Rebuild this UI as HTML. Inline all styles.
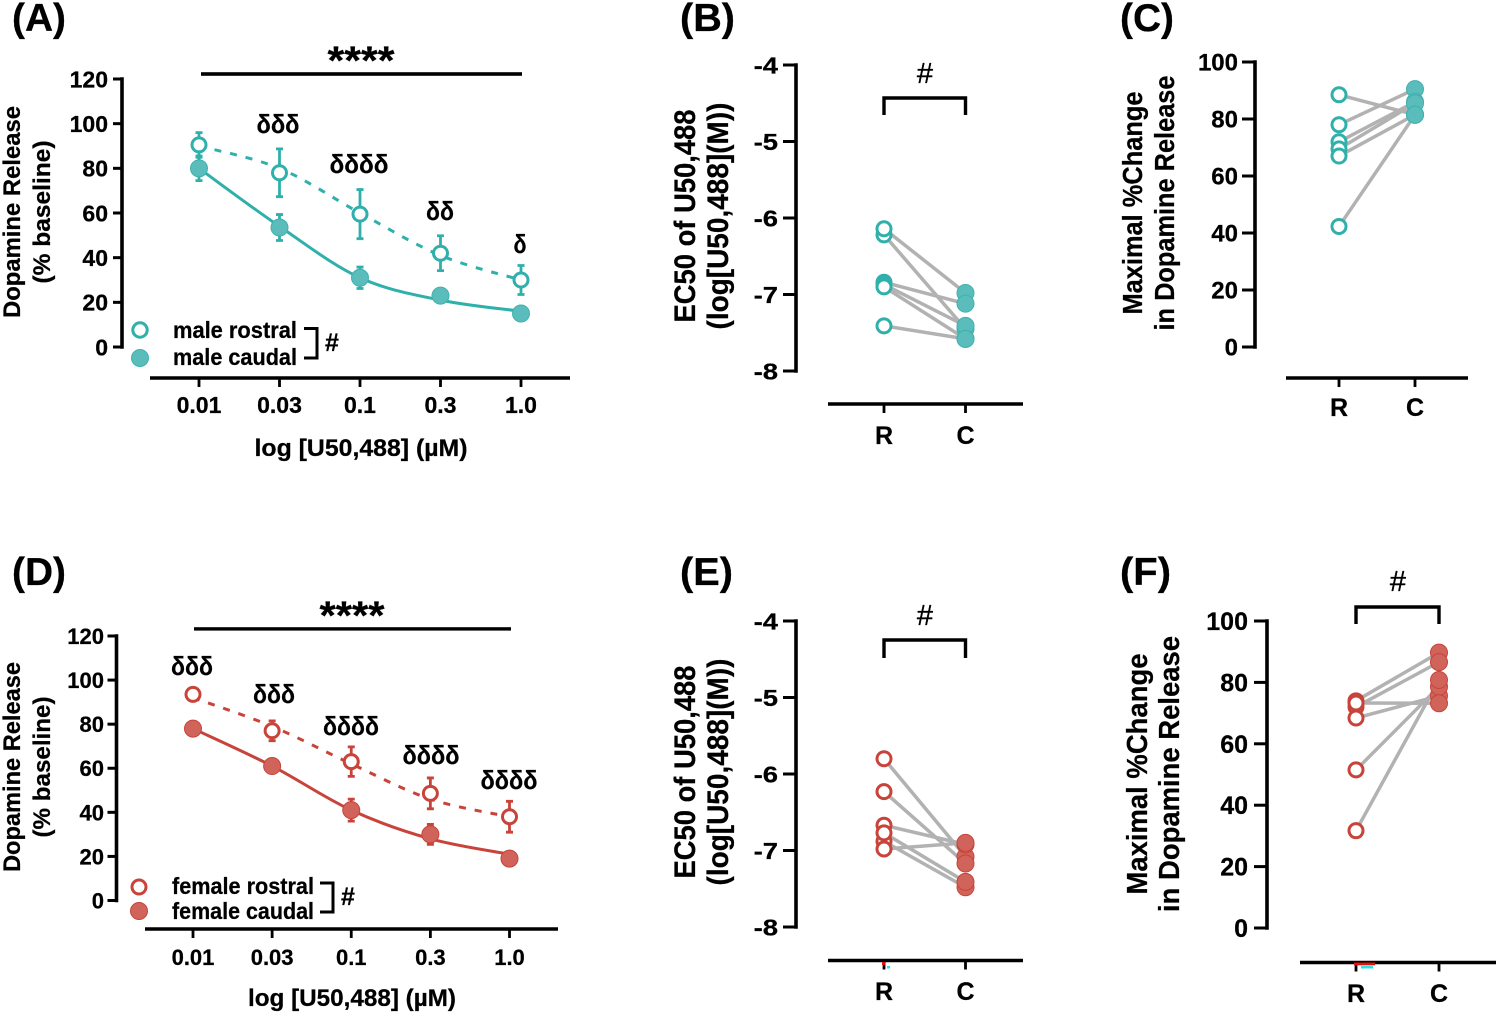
<!DOCTYPE html>
<html lang="en">
<head>
<meta charset="utf-8">
<title>Dopamine release dose-response figure</title>
<style>
html,body{margin:0;padding:0;background:#fff;width:1500px;height:1016px;overflow:hidden}
svg{display:block}
text{font-family:"Liberation Sans",Arial,sans-serif;font-weight:bold;fill:#000;stroke:#000;stroke-width:.25}
text.plain{font-weight:normal;stroke-width:.35}
</style>
</head>
<body>
<svg id="fig" width="1500" height="1016" viewBox="0 0 1500 1016" xmlns="http://www.w3.org/2000/svg">
  <rect width="1500" height="1016" fill="#fff"/>

  <!-- Panel letters -->
  <text x="12" y="31" font-size="39" textLength="54" lengthAdjust="spacingAndGlyphs">(A)</text>
  <text x="680" y="31" font-size="39" textLength="55" lengthAdjust="spacingAndGlyphs">(B)</text>
  <text x="1120" y="31" font-size="39" textLength="54" lengthAdjust="spacingAndGlyphs">(C)</text>
  <text x="12" y="585" font-size="39" textLength="54" lengthAdjust="spacingAndGlyphs">(D)</text>
  <text x="680" y="585" font-size="39" textLength="53" lengthAdjust="spacingAndGlyphs">(E)</text>
  <text x="1120" y="585" font-size="39" textLength="51" lengthAdjust="spacingAndGlyphs">(F)</text>

  <!-- Panel A annotations -->
  <g>
    <text transform="rotate(-90 20 212)" x="20" y="212" font-size="24" text-anchor="middle" textLength="212" lengthAdjust="spacingAndGlyphs">Dopamine Release</text>
    <text transform="rotate(-90 50 212)" x="50" y="212" font-size="24" text-anchor="middle" textLength="143" lengthAdjust="spacingAndGlyphs">(% baseline)</text>
    <text x="361" y="456" font-size="24" text-anchor="middle" textLength="213" lengthAdjust="spacingAndGlyphs">log [U50,488] (µM)</text>
    <rect x="201" y="72.2" width="321" height="3.6" fill="#000"/>
    <text x="361" y="74" font-size="40" text-anchor="middle" textLength="67" lengthAdjust="spacingAndGlyphs">****</text>
    <text x="278" y="133" font-size="26" text-anchor="middle" textLength="43" lengthAdjust="spacingAndGlyphs">δδδ</text>
    <text x="359" y="173" font-size="26" text-anchor="middle" textLength="59" lengthAdjust="spacingAndGlyphs">δδδδ</text>
    <text x="440" y="220" font-size="26" text-anchor="middle" textLength="28" lengthAdjust="spacingAndGlyphs">δδ</text>
    <text x="520" y="253" font-size="26" text-anchor="middle" textLength="13" lengthAdjust="spacingAndGlyphs">δ</text>
    <circle cx="140" cy="330" r="7.2" fill="#fff" stroke="#2fb0ab" stroke-width="3"/>
    <circle cx="140" cy="358" r="8.5" fill="#5abdbb" stroke="#3fb2ae" stroke-width="1"/>
    <text x="173" y="338" font-size="23" textLength="124" lengthAdjust="spacingAndGlyphs">male rostral</text>
    <text x="173" y="365" font-size="23" textLength="124" lengthAdjust="spacingAndGlyphs">male caudal</text>
    <path d="M304 328.5H317V358H304" fill="none" stroke="#000" stroke-width="3"/>
    <text x="332" y="351" font-size="25" text-anchor="middle">#</text>
  </g>

  <!-- Panel D annotations -->
  <g>
    <text transform="rotate(-90 20 767)" x="20" y="767" font-size="24" text-anchor="middle" textLength="210" lengthAdjust="spacingAndGlyphs">Dopamine Release</text>
    <text transform="rotate(-90 50 767)" x="50" y="767" font-size="24" text-anchor="middle" textLength="141" lengthAdjust="spacingAndGlyphs">(% baseline)</text>
    <text x="352" y="1006" font-size="24" text-anchor="middle" textLength="208" lengthAdjust="spacingAndGlyphs">log [U50,488] (µM)</text>
    <rect x="194" y="627.2" width="317" height="3.4" fill="#000"/>
    <text x="352" y="629" font-size="40" text-anchor="middle" textLength="65" lengthAdjust="spacingAndGlyphs">****</text>
    <text x="192" y="675" font-size="26" text-anchor="middle" textLength="42" lengthAdjust="spacingAndGlyphs">δδδ</text>
    <text x="274" y="703" font-size="26" text-anchor="middle" textLength="42" lengthAdjust="spacingAndGlyphs">δδδ</text>
    <text x="351" y="735" font-size="26" text-anchor="middle" textLength="56" lengthAdjust="spacingAndGlyphs">δδδδ</text>
    <text x="431" y="764" font-size="26" text-anchor="middle" textLength="57" lengthAdjust="spacingAndGlyphs">δδδδ</text>
    <text x="509" y="789" font-size="26" text-anchor="middle" textLength="57" lengthAdjust="spacingAndGlyphs">δδδδ</text>
    <circle cx="139" cy="887" r="7" fill="#fff" stroke="#c8433a" stroke-width="3"/>
    <circle cx="139" cy="911" r="8.5" fill="#d0645a" stroke="#c8433a" stroke-width="1"/>
    <text x="172" y="894" font-size="23" textLength="142" lengthAdjust="spacingAndGlyphs">female rostral</text>
    <text x="172" y="919" font-size="23" textLength="142" lengthAdjust="spacingAndGlyphs">female caudal</text>
    <path d="M320 883H333V912H320" fill="none" stroke="#000" stroke-width="3"/>
    <text x="348" y="905" font-size="25" text-anchor="middle">#</text>
  </g>

  <!-- Panel B annotations -->
  <g>
    <text transform="rotate(-90 695 216)" x="695" y="216" font-size="30" text-anchor="middle" textLength="213" lengthAdjust="spacingAndGlyphs">EC50 of U50,488</text>
    <text transform="rotate(-90 728 216)" x="728" y="216" font-size="30" text-anchor="middle" textLength="227" lengthAdjust="spacingAndGlyphs">(log[U50,488](M))</text>
    <path d="M884 115V98H965.5V115" fill="none" stroke="#000" stroke-width="3.4"/>
    <text class="plain" x="925" y="83" font-size="29" text-anchor="middle">#</text>
  </g>

  <!-- Panel C annotations -->
  <g>
    <text transform="rotate(-90 1142 203)" x="1142" y="203" font-size="28" text-anchor="middle" textLength="223" lengthAdjust="spacingAndGlyphs">Maximal %Change</text>
    <text transform="rotate(-90 1174 203)" x="1174" y="203" font-size="28" text-anchor="middle" textLength="255" lengthAdjust="spacingAndGlyphs">in Dopamine Release</text>
  </g>

  <!-- Panel E annotations -->
  <g>
    <text transform="rotate(-90 695 772)" x="695" y="772" font-size="30" text-anchor="middle" textLength="213" lengthAdjust="spacingAndGlyphs">EC50 of U50,488</text>
    <text transform="rotate(-90 728 772)" x="728" y="772" font-size="30" text-anchor="middle" textLength="227" lengthAdjust="spacingAndGlyphs">(log[U50,488](M))</text>
    <path d="M884 658V640H965.5V658" fill="none" stroke="#000" stroke-width="3.4"/>
    <text class="plain" x="925" y="625" font-size="29" text-anchor="middle">#</text>
  </g>

  <!-- Panel F annotations -->
  <g>
    <text transform="rotate(-90 1147 774)" x="1147" y="774" font-size="29" text-anchor="middle" textLength="241" lengthAdjust="spacingAndGlyphs">Maximal %Change</text>
    <text transform="rotate(-90 1179 774)" x="1179" y="774" font-size="29" text-anchor="middle" textLength="276" lengthAdjust="spacingAndGlyphs">in Dopamine Release</text>
    <path d="M1356 624V607H1439V624" fill="none" stroke="#000" stroke-width="3.4"/>
    <text class="plain" x="1398" y="591" font-size="29" text-anchor="middle">#</text>
  </g>

  <!-- small coloured print artifacts near the R ticks; moved to the top of the stack by the script -->
  <g id="artifacts">
    <rect x="882" y="962" width="3" height="3" fill="#e01010"/>
    <rect x="887" y="966" width="3" height="2.5" fill="#30e0e8"/>
    <rect x="1354" y="962.5" width="21" height="2.8" fill="#e01010"/>
    <rect x="1361" y="966" width="12" height="2.5" fill="#30e0e8"/>
  </g>
</svg>

<script>
// ---------- shared categories and ticks ----------
const doseCategories = ['0.01', '0.03', '0.1', '0.3', '1.0'];
const doseTicks = [0, 20, 40, 60, 80, 100, 120];
const regionCategories = ['R', 'C'];
const ec50Ticks = [-4, -5, -6, -7, -8];
const maxChangeTicks = [0, 20, 40, 60, 80, 100];

// ---------- Panel A: male dose response ----------
const maleRostralMean = [90.5, 78, 59.5, 42, 30];
const maleRostralErr = [5.5, 10.7, 11, 7.8, 6.5];
const maleRostralFit = [90, 80, 60, 41, 30];
const maleCaudalMean = [80, 53.5, 31, 23, 15];
const maleCaudalErr = [5.5, 5.8, 4.8, 0, 0];
const maleCaudalFit = [80, 54, 31, 21, 16];

// ---------- Panel D: female dose response ----------
const femaleRostralMean = [93.5, 77, 63, 48.6, 38];
const femaleRostralErr = [0, 4.5, 6.7, 7, 7];
const femaleRostralFit = [92, 79, 62, 46, 38];
const femaleCaudalMean = [78, 61, 41, 30, 19];
const femaleCaudalErr = [0, 0, 5, 4.5, 0];
const femaleCaudalFit = [78, 61, 41, 28, 21];

// ---------- Panels B, C, E, F: paired rostral / caudal values ----------
const maleEc50Rostral = [-6.22, -6.14, -6.84, -6.87, -6.9, -7.41];
const maleEc50Caudal = [-7.45, -6.98, -7.12, -7.41, -7.58, -7.58];
const maleMaxRostral = [88.5, 78, 72, 69.5, 67, 42.3];
const maleMaxCaudal = [81.5, 90.5, 86, 85.5, 81.5, 81.5];
const femaleEc50Rostral = [-5.8, -6.23, -6.67, -6.88, -6.98, -6.77];
const femaleEc50Caudal = [-7.08, -7.17, -6.92, -7.48, -6.9, -7.41];
const femaleMaxRostral = [74, 72, 68.4, 51.5, 31.7, 73.3];
const femaleMaxCaudal = [89.7, 86.6, 75.6, 78.6, 80.8, 73.2];

const TEAL = {line: '#2fb0ab', fill: '#5abdbb', edge: '#3fb2ae'};
const RED = {line: '#c8433a', fill: '#d0645a', edge: '#c8433a'};
const NS = 'http://www.w3.org/2000/svg';
const fig = document.getElementById('fig');

function svgEl(tag, parent) {
  const el = document.createElementNS(NS, tag);
  parent.appendChild(el);
  return el;
}
function setAttrs(el, attrs) {
  Object.keys(attrs).forEach(function (k) { el.setAttribute(k, attrs[k]); });
}
function linearScale(d0, d1, r0, r1) {
  return function (v) { return r0 + (v - d0) * (r1 - r0) / (d1 - d0); };
}
function splinePath(xs, ys) {
  let d = 'M' + xs[0] + ' ' + ys[0];
  for (let i = 0; i < xs.length - 1; i++) {
    const p0 = Math.max(i - 1, 0), p3 = Math.min(i + 2, xs.length - 1);
    const c1x = xs[i] + (xs[i + 1] - xs[p0]) / 6;
    const c1y = ys[i] + (ys[i + 1] - ys[p0]) / 6;
    const c2x = xs[i + 1] - (xs[p3] - xs[i]) / 6;
    const c2y = ys[i + 1] - (ys[p3] - ys[i]) / 6;
    d += 'C' + c1x + ' ' + c1y + ' ' + c2x + ' ' + c2y + ' ' + xs[i + 1] + ' ' + ys[i + 1];
  }
  return d;
}

function drawYAxis(g, o, ticks, yScale) {
  const axis = svgEl('line', g);
  
  
  setAttrs(axis, {x1: o.axisX, x2: o.axisX, y1: yScale(ticks[0]), y2: yScale(ticks[ticks.length - 1]), stroke: '#000', 'stroke-width': 3.6, 'stroke-linecap': 'square'});
  ticks.forEach(function (t) {
    const tick = svgEl('line', g);
    
    
    setAttrs(tick, {x1: o.axisX - o.tickLen, x2: o.axisX, y1: yScale(t), y2: yScale(t), stroke: '#000', 'stroke-width': 3});
    const label = svgEl('text', g);
    
    
    setAttrs(label, {x: o.labelRight, y: yScale(t) + o.labelFont * 0.36, 'font-size': o.labelFont, 'text-anchor': 'end'});
    if (o.labelWidth) {
      setAttrs(label, {textLength: String(t).length * o.labelWidth, lengthAdjust: 'spacingAndGlyphs'});
    }
    label.textContent = String(t);
  });
}

function drawXAxis(g, o, cats, xScale) {
  const axis = svgEl('line', g);
  
  
  setAttrs(axis, {x1: o.xStart, x2: o.xEnd, y1: o.xAxisY, y2: o.xAxisY, stroke: '#000', 'stroke-width': 3.6});
  cats.forEach(function (c, i) {
    const tick = svgEl('line', g);
    
    
    setAttrs(tick, {x1: xScale(i), x2: xScale(i), y1: o.xAxisY, y2: o.xAxisY + 9, stroke: '#000', 'stroke-width': 2.8});
    const label = svgEl('text', g);
    
    
    setAttrs(label, {x: xScale(i), y: o.xLabelY, 'font-size': o.xFont, 'text-anchor': 'middle'});
    label.textContent = c;
  });
}

function drawSeries(g, xScale, yScale, mean, err, fit, color, filled) {
  const xs = mean.map(function (_, i) { return xScale(i); });
  const curve = svgEl('path', g);
  
  
  setAttrs(curve, {d: splinePath(xs, fit.map(yScale)), fill: 'none', stroke: color.line, 'stroke-width': 3});
  if (!filled) {
    curve.setAttribute('stroke-dasharray', '7 9');
  }
  mean.forEach(function (v, i) {
    if (err[i] > 0) {
      const bar = svgEl('path', g);
      
      
      const top = yScale(v + err[i]), bot = yScale(v - err[i]);
      setAttrs(bar, {d: 'M' + (xs[i] - 3.5) + ' ' + top + 'H' + (xs[i] + 3.5) + 'M' + xs[i] + ' ' + top + 'V' + bot + 'M' + (xs[i] - 3.5) + ' ' + bot + 'H' + (xs[i] + 3.5), fill: 'none', stroke: color.line, 'stroke-width': 2.8});
    }
    const dot = svgEl('circle', g);
    
    
    setAttrs(dot, {cx: xs[i], cy: yScale(v), r: filled ? 8.5 : 7, fill: filled ? color.fill : '#fff', stroke: filled ? color.edge : color.line, 'stroke-width': filled ? 1 : 3});
  });
}

function drawDosePanel(o, rMean, rErr, rFit, cMean, cErr, cFit, color) {
  const g = svgEl('g', fig);
  
  
  const yScale = linearScale(0, 120, o.y0, o.yTop);
  const xScale = linearScale(0, doseCategories.length - 1, o.x0, o.x1);
  drawYAxis(g, o, doseTicks, yScale);
  drawXAxis(g, o, doseCategories, xScale);
  drawSeries(g, xScale, yScale, cMean, cErr, cFit, color, true);
  drawSeries(g, xScale, yScale, rMean, rErr, rFit, color, false);
}

function drawPairedPanel(o, rostral, caudal, ticks, color) {
  const g = svgEl('g', fig);
  
  
  const yScale = linearScale(ticks[0], ticks[ticks.length - 1], o.yFirst, o.yLast);
  const xScale = linearScale(0, 1, o.x0, o.x1);
  drawYAxis(g, o, ticks, yScale);
  drawXAxis(g, o, regionCategories, xScale);
  rostral.forEach(function (v, i) {
    const link = svgEl('line', g);
    
    
    setAttrs(link, {x1: xScale(0), x2: xScale(1), y1: yScale(v), y2: yScale(caudal[i]), stroke: '#b2b2b2', 'stroke-width': 3.5});
  });
  caudal.forEach(function (v) {
    const dot = svgEl('circle', g);
    
    
    setAttrs(dot, {cx: xScale(1), cy: yScale(v), r: 8.5, fill: color.fill, stroke: color.edge, 'stroke-width': 1});
  });
  rostral.forEach(function (v) {
    const dot = svgEl('circle', g);
    
    
    setAttrs(dot, {cx: xScale(0), cy: yScale(v), r: 7, fill: '#fff', stroke: color.line, 'stroke-width': 3});
  });
}

drawDosePanel({name: 'panel-a-chart', axisX: 122, tickLen: 9, labelRight: 108, labelFont: 23, y0: 347, yTop: 79, x0: 199, x1: 521, xStart: 150, xEnd: 570, xAxisY: 378, xLabelY: 413, xFont: 23},
  maleRostralMean, maleRostralErr, maleRostralFit, maleCaudalMean, maleCaudalErr, maleCaudalFit, TEAL);
drawDosePanel({name: 'panel-d-chart', axisX: 116.5, tickLen: 9, labelRight: 104, labelFont: 22, y0: 900.5, yTop: 636, x0: 193, x1: 509.5, xStart: 145, xEnd: 558, xAxisY: 929, xLabelY: 965, xFont: 22},
  femaleRostralMean, femaleRostralErr, femaleRostralFit, femaleCaudalMean, femaleCaudalErr, femaleCaudalFit, RED);
drawPairedPanel({name: 'panel-b-chart', axisX: 796, tickLen: 13, labelRight: 778, labelFont: 23.5, labelWidth: 12.2, yFirst: 65, yLast: 371, x0: 884, x1: 965.5, xStart: 828, xEnd: 1023, xAxisY: 404, xLabelY: 444, xFont: 25},
  maleEc50Rostral, maleEc50Caudal, ec50Ticks, TEAL);
drawPairedPanel({name: 'panel-c-chart', axisX: 1255, tickLen: 13, labelRight: 1238, labelFont: 24, yFirst: 347, yLast: 62, x0: 1339, x1: 1415, xStart: 1286, xEnd: 1468, xAxisY: 378, xLabelY: 416, xFont: 25},
  maleMaxRostral, maleMaxCaudal, maxChangeTicks, TEAL);
drawPairedPanel({name: 'panel-e-chart', axisX: 796, tickLen: 13, labelRight: 778, labelFont: 23.5, labelWidth: 12.2, yFirst: 621, yLast: 927, x0: 884, x1: 965.5, xStart: 828, xEnd: 1023, xAxisY: 960.5, xLabelY: 1000, xFont: 25},
  femaleEc50Rostral, femaleEc50Caudal, ec50Ticks, RED);
drawPairedPanel({name: 'panel-f-chart', axisX: 1267, tickLen: 13, labelRight: 1248, labelFont: 25, yFirst: 928, yLast: 621, x0: 1356, x1: 1439, xStart: 1300, xEnd: 1496, xAxisY: 962.5, xLabelY: 1002, xFont: 25},
  femaleMaxRostral, femaleMaxCaudal, maxChangeTicks, RED);

fig.appendChild(document.getElementById('artifacts'));
</script>
</body>
</html>
